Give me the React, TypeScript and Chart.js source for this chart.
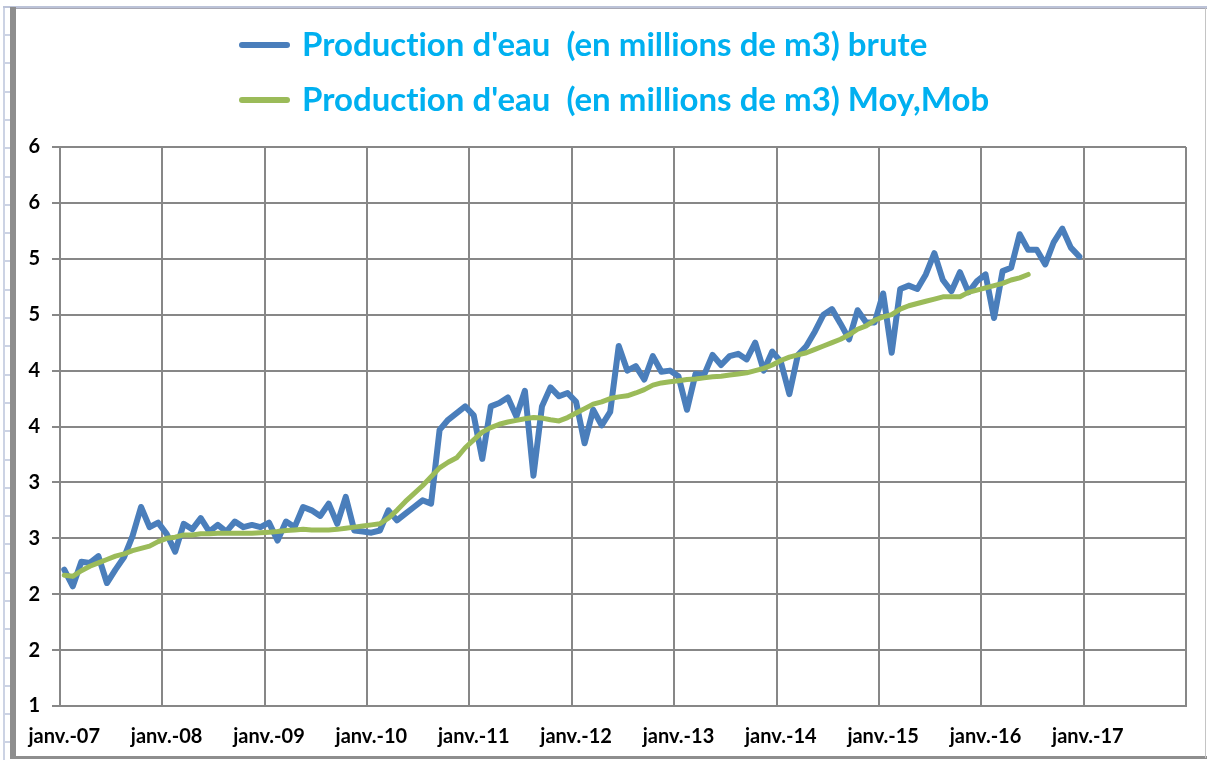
import React, { useEffect, useRef } from 'react';
import { Chart, registerables } from 'chart.js';

Chart.register(...registerables);

// ---- data ----
const YEARS = ['07', '08', '09', '10', '11', '12', '13', '14', '15', '16', '17'];
const MONTHS = ['janv.', 'févr.', 'mars', 'avr.', 'mai', 'juin', 'juil.', 'août', 'sept.', 'oct.', 'nov.', 'déc.'];
const CATEGORIES = YEARS.flatMap((y) => MONTHS.map((m) => `${m}-${y}`));

const SERIES_NAMES = [
  "Production d'eau  (en millions de m3) brute",
  "Production d'eau  (en millions de m3) Moy,Mob",
];

// monthly raw production, janv.-07 .. déc.-16
const BRUTE = [
  2.22, 2.07, 2.29, 2.28, 2.34, 2.10, 2.22, 2.33, 2.52, 2.78, 2.60, 2.64,
  2.54, 2.38, 2.63, 2.58, 2.68, 2.56, 2.62, 2.56, 2.65, 2.60, 2.62, 2.60,
  2.64, 2.48, 2.65, 2.60, 2.78, 2.75, 2.70, 2.81, 2.63, 2.87, 2.57, 2.56,
  2.55, 2.57, 2.75, 2.66, 2.72, 2.78, 2.84, 2.81, 3.47, 3.56, 3.62, 3.68,
  3.60, 3.21, 3.68, 3.71, 3.76, 3.59, 3.82, 3.06, 3.68, 3.85, 3.77, 3.80,
  3.72, 3.35, 3.65, 3.51, 3.63, 4.22, 4.00, 4.04, 3.92, 4.13, 3.99, 4.00,
  3.95, 3.65, 3.97, 3.96, 4.14, 4.05, 4.13, 4.15, 4.10, 4.25, 4.00, 4.17,
  4.08, 3.79, 4.14, 4.22, 4.35, 4.50, 4.55, 4.42, 4.28, 4.54, 4.43, 4.43,
  4.69, 4.16, 4.73, 4.76, 4.73, 4.86, 5.05, 4.81, 4.71, 4.88, 4.70, 4.80,
  4.86, 4.47, 4.89, 4.92, 5.22, 5.08, 5.08, 4.95, 5.15, 5.27, 5.10, 5.02,
];

// moving average, janv.-07 .. juin-16
const MOY_MOB = [
  2.17, 2.16, 2.21, 2.25, 2.28, 2.31, 2.34, 2.36, 2.39, 2.41, 2.43, 2.47,
  2.50, 2.51, 2.53, 2.53, 2.54, 2.54, 2.545, 2.545, 2.545, 2.545, 2.545, 2.55,
  2.555, 2.56, 2.57, 2.575, 2.58, 2.575, 2.575, 2.575, 2.58, 2.59, 2.60, 2.61,
  2.62, 2.63, 2.68, 2.75, 2.83, 2.90, 2.97, 3.05, 3.13, 3.18, 3.22, 3.31,
  3.38, 3.45, 3.49, 3.52, 3.54, 3.555, 3.57, 3.58, 3.575, 3.56, 3.55, 3.58,
  3.62, 3.66, 3.70, 3.72, 3.75, 3.765, 3.775, 3.80, 3.83, 3.87, 3.89, 3.90,
  3.91, 3.92, 3.925, 3.935, 3.945, 3.95, 3.96, 3.97, 3.98, 4.00, 4.02, 4.05,
  4.09, 4.12, 4.14, 4.16, 4.19, 4.22, 4.25, 4.28, 4.32, 4.37, 4.40, 4.45,
  4.48, 4.50, 4.55, 4.58, 4.60, 4.62, 4.64, 4.66, 4.66, 4.66, 4.70, 4.72,
  4.74, 4.76, 4.78, 4.81, 4.83, 4.86,
];

const Y_MIN = 1;
const Y_MAX = 6;
const Y_STEP = 0.5;
const LABEL_EVERY = 12;

// ---- styles ----
const BLUE = '#4a7ebb';
const GREEN = '#9bbb59';
const GRID = '#878787';
const LEGEND_TEXT = '#00b0f0';
const FONT_FAMILY = 'Lato, "Liberation Sans", sans-serif';

export default function App() {
  const canvasRef = useRef<HTMLCanvasElement | null>(null);

  useEffect(() => {
    document.body.style.margin = '0';
    const canvas = canvasRef.current;
    if (!canvas) return;
    const chart = new Chart(canvas, {
      type: 'line',
      data: {
        labels: CATEGORIES,
        datasets: [
          {
            label: SERIES_NAMES[0],
            data: BRUTE,
            borderColor: BLUE,
            backgroundColor: BLUE,
            borderWidth: 6,
            pointRadius: 0,
            tension: 0,
            fill: false,
            borderJoinStyle: 'round',
            borderCapStyle: 'round',
            order: 1,
          },
          {
            label: SERIES_NAMES[1],
            data: MOY_MOB,
            borderColor: GREEN,
            backgroundColor: GREEN,
            borderWidth: 5,
            pointRadius: 0,
            tension: 0,
            fill: false,
            borderJoinStyle: 'round',
            borderCapStyle: 'round',
            order: 0,
          },
        ],
      },
      options: {
        animation: false,
        responsive: false,
        maintainAspectRatio: false,
        layout: { padding: { top: 138, right: 19, left: 0, bottom: 0 } },
        plugins: {
          legend: { display: false },
          tooltip: { enabled: false },
          title: { display: false },
        },
        scales: {
          x: {
            type: 'category',
            offset: true,
            afterFit: (scale: any) => {
              scale.height = 49;
              scale.paddingLeft = 0;
              scale.paddingRight = 0;
            },
            grid: {
              offset: true,
              drawTicks: false,
              lineWidth: 2,
              color: (ctx: any) =>
                ctx.type !== 'tick' || ctx.index % LABEL_EVERY === 0 ? GRID : 'rgba(0,0,0,0)',
            },
            border: { display: true, color: GRID, width: 2 },
            ticks: {
              autoSkip: false,
              maxRotation: 0,
              minRotation: 0,
              padding: 19,
              color: '#000',
              font: { family: FONT_FAMILY, size: 20, weight: 'bold' },
              callback: (_v: any, i: number) => (i % LABEL_EVERY === 0 ? CATEGORIES[i] : ''),
            },
          },
          y: {
            type: 'linear',
            min: Y_MIN,
            max: Y_MAX,
            afterFit: (scale: any) => {
              scale.width = 43;
            },
            grid: { color: GRID, lineWidth: 2, tickLength: 8, drawTicks: true },
            border: { display: true, color: GRID, width: 2 },
            ticks: {
              stepSize: Y_STEP,
              padding: 12,
              color: '#000',
              font: { family: FONT_FAMILY, size: 20, weight: 'bold' },
              callback: (v: any) => String(Math.round(Number(v))),
            },
          },
        },
      },
    });
    return () => chart.destroy();
  }, []);

  const rowLines: number[] = [];
  for (let y = 34; y < 760; y += 28.3) rowLines.push(Math.round(y));

  const legendRow = (name: string, color: string, top: number) => (
    <div key={name}>
      <div
        style={{
          position: 'absolute',
          left: 239,
          top: top - 3,
          width: 51,
          height: 6,
          borderRadius: 3,
          background: color,
        }}
      />
      <div
        style={{
          position: 'absolute',
          left: 302,
          top: top - 22,
          fontFamily: FONT_FAMILY,
          fontWeight: 700,
          fontSize: 33,
          lineHeight: '40px',
          color: LEGEND_TEXT,
          whiteSpace: 'pre',
          fontVariantLigatures: 'none',
        }}
      >
        {name}
      </div>
    </div>
  );

  return (
    <div
      style={{
        position: 'fixed',
        left: 0,
        top: 0,
        width: 1207,
        height: 760,
        background: '#fff',
        overflow: 'hidden',
      }}
    >
      {/* spreadsheet background */}
      <div style={{ position: 'absolute', left: 3, top: 6, width: 2, height: 754, background: '#ccd3e4' }} />
      {rowLines.map((y) => (
        <div key={y} style={{ position: 'absolute', left: 3, top: y, width: 8, height: 2, background: '#ccd3e4' }} />
      ))}
      <div style={{ position: 'absolute', left: 3, top: 6, width: 1204, height: 2, background: '#bcc3d8' }} />
      <div style={{ position: 'absolute', left: 10, top: 8, width: 1197, height: 1, background: '#a8a8b4' }} />
      {/* chart frame */}
      <div style={{ position: 'absolute', left: 10, top: 7, width: 6, height: 752, background: '#8e8e8e' }} />
      <div style={{ position: 'absolute', left: 10, top: 756, width: 1197, height: 3, background: '#8e8e8e' }} />
      <div style={{ position: 'absolute', left: 1205, top: 8, width: 1, height: 750, background: '#c4c4c4' }} />

      <canvas
        ref={canvasRef}
        width={1188}
        height={746}
        style={{ position: 'absolute', left: 17, top: 9, width: 1188, height: 746 }}
      />

      {legendRow(SERIES_NAMES[0], BLUE, 45)}
      {legendRow(SERIES_NAMES[1], GREEN, 100)}
    </div>
  );
}
